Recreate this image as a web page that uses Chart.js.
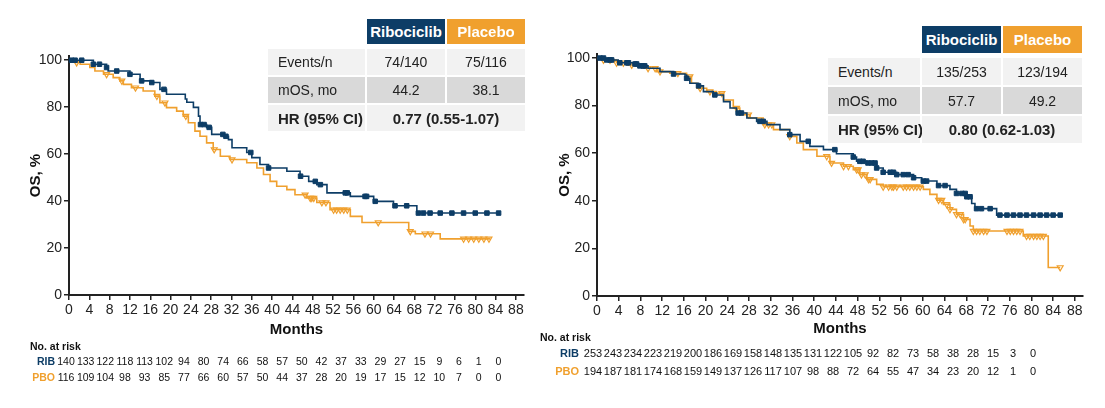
<!DOCTYPE html>
<html>
<head>
<meta charset="utf-8">
<script src="https://cdn.jsdelivr.net/npm/chart.js@4.4.1/dist/chart.umd.min.js"></script>
<style>
  body { margin: 0; width: 1105px; height: 408px; background: #fff; position: relative; overflow: hidden;
         font-family: "Liberation Sans", Arial, sans-serif; color: #222; }
  canvas { position: absolute; top: 0; }
  .cell { position: absolute; display: flex; align-items: center; box-sizing: border-box; font-size: 14px; white-space: nowrap; }
  .bold { font-family: "Liberation Sans Narrow", "Liberation Sans", Arial, sans-serif; font-weight: bold; font-size: 15px; }
  .hd { color: #fff; justify-content: center; }
  .c { justify-content: center; }
  .txt { position: absolute; white-space: nowrap; transform: translate(-50%, -50%); color: #111; }
  .risk { font-family: "Liberation Sans Narrow", "Liberation Sans", Arial, sans-serif; font-size: 10px; }
</style>
</head>
<body>
<canvas id="chartA" width="540" height="408" style="left:0"></canvas>
<canvas id="chartB" width="565" height="408" style="left:540px"></canvas>
<div id="overlay"></div>
<script>
// ---- data ----
const riskMonths = [0, 4, 8, 12, 16, 20, 24, 28, 32, 36, 40, 44, 48, 52, 56, 60, 64, 68, 72, 76, 80, 84, 88];
const armLabels = ['Ribociclib', 'Placebo'];
const rowLabels = ['Events/n', 'mOS, mo', 'HR (95% CI)'];

// left panel
const eventsA = ['74/140', '75/116'];
const mosA = ['44.2', '38.1'];
const hrA = '0.77 (0.55-1.07)';
const ribTimeA = [0, 4.8, 7.4, 7.7, 12.0, 14.0, 16.3, 17.9, 19.2, 22.9, 23.2, 24.5, 25.5, 25.8, 27.1, 28.1, 30.4, 31.4, 32.1, 35.0, 36.0, 37.6, 39.3, 42.9, 45.5, 47.2, 48.8, 50.8, 55.4, 60.0, 63.9, 68.5, 84.6];
const ribSurvA = [100, 98.3, 96.9, 95.4, 94.0, 91.2, 90.5, 87.6, 85.5, 83.5, 82.1, 79.9, 76.2, 72.6, 71.4, 68.4, 67.6, 66.2, 62.7, 60.7, 58.5, 55.6, 54.1, 52.7, 50.6, 48.4, 47.0, 43.5, 42.0, 39.9, 38.0, 34.9, 34.9];
const ribCensA = [0.5, 1.2, 2.5, 4.8, 6.0, 7.4, 9.4, 12.0, 14.3, 16.3, 18.7, 25.9, 26.6, 27.6, 30.3, 30.9, 35.8, 39.3, 45.6, 48.5, 49.5, 54.4, 54.8, 58.3, 58.6, 60.3, 64.2, 66.5, 68.8, 69.8, 71.1, 73.1, 75.4, 77.7, 80.0, 82.3, 84.6];
const pboTimeA = [0, 1.2, 2.2, 4.1, 5.1, 6.8, 8.7, 10.0, 10.7, 12.3, 14.6, 16.9, 17.9, 19.2, 21.2, 22.5, 23.5, 24.8, 25.8, 27.1, 28.4, 29.8, 31.7, 35.0, 37.0, 38.3, 39.6, 40.9, 42.9, 44.5, 46.8, 48.8, 51.4, 55.4, 57.7, 66.9, 68.2, 73.1, 83.0];
const pboSurvA = [100, 99.0, 98.3, 96.9, 95.4, 94.0, 92.6, 91.2, 89.7, 88.3, 86.9, 84.7, 81.9, 79.8, 78.3, 76.2, 73.4, 69.8, 67.6, 64.8, 62.0, 59.1, 57.7, 56.3, 54.1, 51.3, 48.4, 46.3, 44.9, 42.7, 41.3, 39.4, 36.3, 33.5, 30.9, 27.1, 26.1, 23.9, 23.9];
const pboCensA = [1.5, 7.4, 10.4, 13.1, 17.3, 18.9, 23.0, 28.6, 32.1, 46.5, 47.5, 47.8, 48.2, 49.8, 50.6, 52.1, 52.7, 53.4, 54.1, 54.8, 60.9, 67.2, 70.1, 71.2, 77.7, 78.7, 79.7, 80.7, 81.7, 82.7];
const ribRiskA = [140, 133, 122, 118, 113, 102, 94, 80, 74, 66, 58, 57, 50, 42, 37, 33, 29, 27, 15, 9, 6, 1, 0];
const pboRiskA = [116, 109, 104, 98, 93, 85, 77, 66, 60, 57, 50, 44, 37, 28, 20, 19, 17, 15, 12, 10, 7, 0, 0];

// right panel
const eventsB = ['135/253', '123/194'];
const mosB = ['57.7', '49.2'];
const hrB = '0.80 (0.62-1.03)';
const ribTimeB = [0, 1.5, 3.9, 6.7, 7.9, 9.4, 11.6, 14.1, 16.2, 16.5, 17.1, 18.7, 19.6, 21.4, 23.3, 24.5, 25.7, 27.6, 29.4, 31.3, 33.7, 35.5, 37.4, 39.2, 41.7, 44.1, 47.2, 47.8, 49.7, 51.5, 52.7, 55.2, 58.3, 59.8, 62.6, 65.0, 66.2, 68.1, 69.0, 69.6, 73.6, 85.3];
const ribSurvB = [100, 99.2, 98.0, 97.5, 96.7, 95.7, 94.3, 93.3, 92.9, 91.5, 89.4, 88.3, 85.9, 84.5, 81.7, 79.0, 76.9, 74.8, 73.4, 72.0, 69.9, 67.8, 65.0, 62.9, 61.5, 59.8, 58.4, 56.6, 55.9, 53.8, 52.0, 51.0, 49.7, 48.3, 46.4, 44.8, 43.1, 41.7, 38.9, 36.7, 34.0, 34.0];
const ribCensB = [0.55, 1.2, 1.8, 2.4, 2.7, 4.2, 5.5, 5.8, 7.0, 7.3, 7.9, 8.5, 8.8, 14.1, 16.5, 18.7, 21.7, 26.0, 26.6, 30.0, 30.6, 35.5, 38.9, 43.8, 47.2, 48.4, 49.0, 49.9, 50.6, 51.2, 51.5, 52.7, 54.0, 54.6, 55.2, 56.4, 57.3, 58.3, 60.1, 60.7, 62.9, 64.1, 66.2, 67.2, 67.8, 68.1, 68.7, 69.9, 70.8, 72.4, 74.2, 75.5, 76.7, 77.9, 79.1, 80.4, 81.6, 82.8, 84.0, 85.3];
const pboTimeB = [0, 1.2, 3.6, 5.5, 8.5, 11.0, 13.4, 16.5, 17.4, 18.4, 20.2, 22.0, 23.3, 25.1, 26.3, 28.2, 30.6, 32.5, 35.5, 36.8, 38.0, 40.5, 42.9, 45.4, 47.2, 48.4, 49.7, 51.5, 52.7, 60.1, 61.3, 62.6, 63.8, 65.0, 66.2, 67.5, 68.7, 69.3, 78.5, 83.1, 85.3];
const pboSurvB = [100, 99.2, 98.0, 97.1, 95.7, 94.3, 93.6, 92.2, 89.4, 87.3, 85.9, 85.2, 82.4, 79.0, 76.2, 74.8, 72.0, 69.9, 67.1, 64.3, 61.5, 58.7, 55.9, 54.5, 53.1, 51.0, 49.0, 46.9, 45.9, 44.8, 42.7, 40.3, 38.5, 36.4, 34.3, 32.2, 29.4, 27.3, 25.2, 12.0, 12.0];
const pboCensB = [1.2, 2.4, 3.6, 4.85, 6.4, 9.4, 10.7, 11.6, 14.9, 17.1, 19.0, 20.8, 23.0, 25.7, 27.9, 30.9, 31.6, 32.2, 35.5, 42.3, 43.2, 45.4, 46.3, 47.8, 48.1, 48.7, 49.4, 50.0, 50.3, 52.7, 53.7, 54.3, 54.6, 55.2, 56.4, 57.0, 57.6, 58.3, 58.9, 59.5, 62.9, 63.5, 64.4, 65.0, 66.2, 66.9, 67.5, 67.8, 69.3, 69.9, 70.5, 71.2, 71.8, 75.5, 76.1, 76.7, 77.3, 77.9, 79.1, 79.7, 80.4, 81.0, 81.6, 82.2, 85.3];
const ribRiskB = [253, 243, 234, 223, 219, 200, 186, 169, 158, 148, 135, 131, 122, 105, 92, 82, 73, 58, 38, 28, 15, 3, 0];
const pboRiskB = [194, 187, 181, 174, 168, 159, 149, 137, 126, 117, 107, 98, 88, 72, 64, 55, 47, 34, 23, 20, 12, 1, 0];

const BLUE = '#0d3d66';
const ORANGE = '#f0a02e';

// ---- helpers ----
function toPts(times, surv) {
  return times.map((t, i) => ({ x: t, y: surv[i] }));
}
function survAt(times, surv, t) {
  let s = surv[0];
  for (let i = 0; i < times.length; i++) {
    if (times[i] <= t) s = surv[i];
  }
  return s;
}
function censPts(cens, times, surv) {
  return cens.map(t => ({ x: t, y: survAt(times, surv, t) }));
}

function kmChart(id, d, lay) {
  return new Chart(document.getElementById(id), {
    type: 'scatter',
    data: {
      datasets: [
        { data: censPts(d.ribC, d.ribT, d.ribS), showLine: false, pointStyle: 'rect', pointRadius: 3.2,
          backgroundColor: BLUE, borderColor: BLUE, borderWidth: 1, order: 0, clip: false },
        { data: toPts(d.ribT, d.ribS), showLine: true, stepped: 'before', borderColor: BLUE, borderWidth: 1.6,
          pointRadius: 0, order: 1, clip: false },
        { data: censPts(d.pboC, d.pboT, d.pboS), showLine: false, pointStyle: 'triangle', rotation: 180, pointRadius: 3.4,
          backgroundColor: 'rgba(255,255,255,0)', borderColor: ORANGE, borderWidth: 1.2, order: 2, clip: false },
        { data: toPts(d.pboT, d.pboS), showLine: true, stepped: 'before', borderColor: ORANGE, borderWidth: 1.6,
          pointRadius: 0, order: 3, clip: false }
      ]
    },
    options: {
      responsive: false,
      animation: false,
      layout: { padding: lay.pad },
      plugins: { legend: { display: false }, tooltip: { enabled: false } },
      scales: {
        x: {
          type: 'linear', min: 0, max: lay.xMax,
          ticks: { stepSize: 4, includeBounds: false, autoSkip: false, maxRotation: 0, color: '#222', padding: 2,
                   font: { size: 14, family: '"Liberation Sans", Arial' } },
          afterBuildTicks: s => { s.ticks = s.ticks.filter(t => t.value % 4 === 0); },
          afterFit: s => { s.height = lay.xh; },
          grid: { drawOnChartArea: false, drawTicks: true, tickLength: 5, color: '#222', lineWidth: 1.5 },
          border: { display: true, color: '#222', width: 2 },
          title: { display: true, text: 'Months', color: '#111',
                   font: { size: 15, weight: 'bold', family: '"Liberation Sans", Arial' } }
        },
        y: {
          type: 'linear', min: 0, max: lay.yMax,
          ticks: { stepSize: 20, includeBounds: false, autoSkip: false, color: '#222', padding: 2,
                   font: { size: 14, family: '"Liberation Sans", Arial' } },
          afterBuildTicks: s => { s.ticks = s.ticks.filter(t => t.value % 20 === 0); },
          afterFit: s => { s.width = lay.yw; },
          grid: { drawOnChartArea: false, drawTicks: true, tickLength: 5, color: '#222', lineWidth: 1.5 },
          border: { display: true, color: '#222', width: 2 },
          title: { display: true, text: 'OS, %', color: '#111',
                   font: { size: 15, weight: 'bold', family: '"Liberation Sans", Arial' } }
        }
      }
    }
  });
}

kmChart('chartA',
  { ribT: ribTimeA, ribS: ribSurvA, ribC: ribCensA, pboT: pboTimeA, pboS: pboSurvA, pboC: pboCensA },
  { pad: { left: 23, right: 16, top: 56, bottom: 65 }, xMax: 89.6, yMax: 101.8, xh: 48, yw: 46 });
kmChart('chartB',
  { ribT: ribTimeB, ribS: ribSurvB, ribC: ribCensB, pboT: pboTimeB, pboS: pboSurvB, pboC: pboCensB },
  { pad: { left: 12, right: 22, top: 54, bottom: 66 }, xMax: 89.5, yMax: 101.7, xh: 46, yw: 45 });

// ---- tables + number at risk (html text) ----
const overlay = document.getElementById('overlay');
function cell(x, y, w, h, bg, text, cls) {
  const el = document.createElement('div');
  el.className = 'cell ' + (cls || '');
  el.style.cssText += `left:${x}px;top:${y}px;width:${w}px;height:${h}px;background:${bg};`;
  el.textContent = text;
  overlay.appendChild(el);
  return el;
}
function table(t, events, mos, hr) {
  const c1 = t.x + t.lw + t.gap, c2 = c1 + t.cw + t.gap;
  cell(c1, t.y, t.cw, t.hh, BLUE, armLabels[0], 'bold hd');
  cell(c2, t.y, t.cw, t.hh, ORANGE, armLabels[1], 'bold hd');
  const bgs = ['#f2f2f2', '#d9d9d9', '#f2f2f2'];
  let y = t.y + t.hh + 5;
  for (let r = 0; r < 3; r++) {
    const lab = cell(t.x, y, t.lw, t.rh, bgs[r], rowLabels[r], r === 2 ? 'bold' : '');
    lab.style.paddingLeft = '10px';
    if (r < 2) {
      const vals = r === 0 ? events : mos;
      cell(c1, y, t.cw, t.rh, bgs[r], vals[0], 'c');
      cell(c2, y, t.cw, t.rh, bgs[r], vals[1], 'c');
    } else {
      cell(c1, y, t.cw * 2 + t.gap, t.rh, bgs[r], hr, 'bold c');
    }
    y += t.rh + t.gap;
  }
}
table({ x: 268, y: 19, lw: 97, cw: 78, gap: 2, hh: 25, rh: 26 }, eventsA, mosA, hrA);
table({ x: 828, y: 26, lw: 92, cw: 79, gap: 2, hh: 27, rh: 27 }, eventsB, mosB, hrB);

function txt(x, y, text, style) {
  const el = document.createElement('div');
  el.className = 'txt';
  el.style.cssText += `left:${x}px;top:${y}px;` + (style || '');
  el.textContent = text;
  overlay.appendChild(el);
  return el;
}
function riskTable(r, rib, pbo) {
  txt(r.hx, r.hy, 'No. at risk', 'font-weight:bold;font-size:10.5px;transform:translate(0,-50%)');
  txt(r.lx, r.ry1, 'RIB', `color:${BLUE};transform:translate(-100%,-50%);font-size:${r.fs}px;font-weight:bold`).classList.add('risk');
  txt(r.lx, r.ry2, 'PBO', `color:${ORANGE};transform:translate(-100%,-50%);font-size:${r.fs}px;font-weight:bold`).classList.add('risk');
  riskMonths.forEach((m, i) => {
    const x = r.x0 + i * r.step;
    txt(x, r.ry1, String(rib[i]), `font-size:${r.fs}px`).classList.add('risk');
    txt(x, r.ry2, String(pbo[i]), `font-size:${r.fs}px`).classList.add('risk');
  });
}
riskTable({ hx: 30, hy: 346, lx: 55, ry1: 361, ry2: 377, x0: 66, step: 19.65, fs: 10.5 }, ribRiskA, pboRiskA);
riskTable({ hx: 540, hy: 337, lx: 579, ry1: 353, ry2: 371, x0: 593, step: 20.0, fs: 11 }, ribRiskB, pboRiskB);
</script>
</body>
</html>
